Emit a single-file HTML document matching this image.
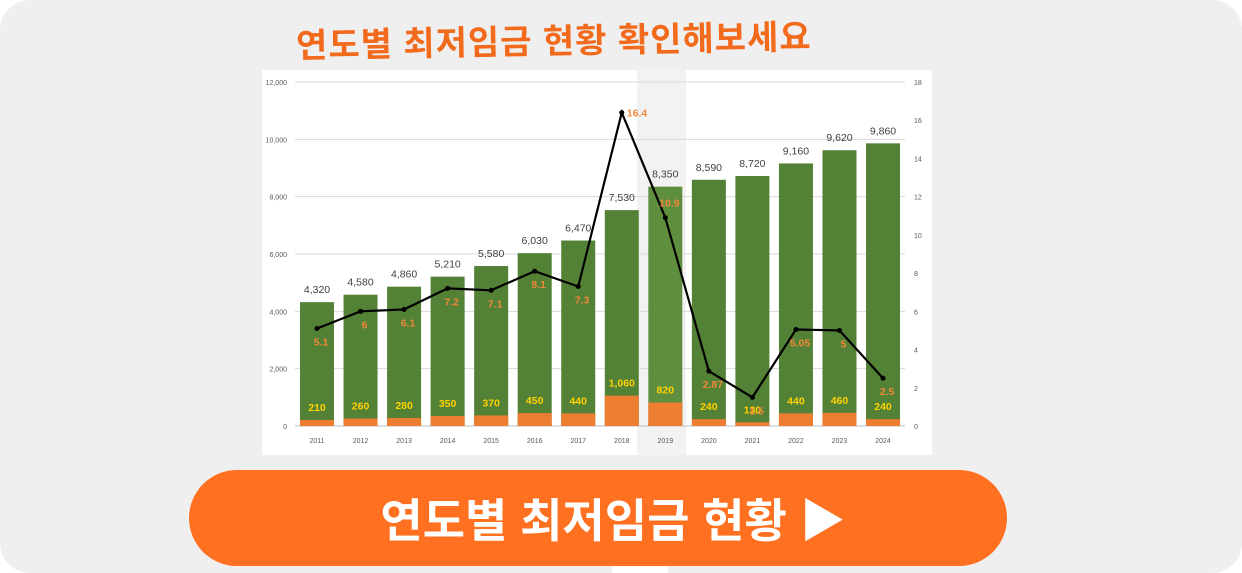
<!DOCTYPE html>
<html><head><meta charset="utf-8"><style>
html,body{margin:0;padding:0;width:1242px;height:573px;background:#fff;overflow:hidden}
.card{position:absolute;left:0;top:0;width:1242px;height:573px;background:#efefef;border-radius:30px}
.title{position:absolute;left:296px;top:14px;font:bold 34px "Liberation Sans","Noto Sans CJK KR",sans-serif;color:#f26a1b;letter-spacing:1px;transform:rotate(-1deg)}
.btn{position:absolute;left:189px;top:470px;width:818px;height:96px;border-radius:48px;background:#ff7020;color:#fff;font:bold 46px "Liberation Sans","Noto Sans CJK KR",sans-serif;display:flex;align-items:center;justify-content:center;padding-left:30px;box-sizing:border-box}
svg{position:absolute;left:0;top:0}
</style></head><body>
<div class="card"></div>
<div class="title">연도별 최저임금 현황 확인해보세요</div>
<svg width="1242" height="573">
<rect x="262" y="70" width="670" height="385" fill="#fff"/>
<rect x="637" y="70" width="49" height="385" fill="#f2f2f2"/>
<g id="g"></g>
</svg>
<div class="btn">연도별 최저임금 현황 ▶</div>
<script>
const years=["2011","2012","2013","2014","2015","2016","2017","2018","2019","2020","2021","2022","2023","2024"];
const wages=[4320,4580,4860,5210,5580,6030,6470,7530,8350,8590,8720,9160,9620,9860];
const increases=[210,260,280,350,370,450,440,1060,820,240,130,440,460,240];
const rates=[5.1,6,6.1,7.2,7.1,8.1,7.3,16.4,10.9,2.87,1.5,5.05,5,2.5];
const leftTicks=[0,2000,4000,6000,8000,10000,12000];
const rightTicks=[0,2,4,6,8,10,12,14,16,18];
const NS="http://www.w3.org/2000/svg",g=document.getElementById('g');
const y0=426,ph=344;
const yL=v=>y0-v/12000*ph, yR=v=>y0-v/18*ph, xC=i=>317+i*43.54;
function mk(t,a,txt){const e=document.createElementNS(NS,t);for(const k in a)e.setAttribute(k,a[k]);if(txt!==undefined)e.textContent=txt;g.appendChild(e);return e;}
leftTicks.forEach(v=>{
 const l=mk('line',{x1:295,x2:905,y1:yL(v),y2:yL(v),stroke:v?'#d9d9d9':'#bfbfbf','stroke-width':1});
 
 
 const t=mk('text',{x:287,y:yL(v)+3,'text-anchor':'end','font-size':7,fill:'#595959','font-family':'Liberation Sans'},v.toLocaleString('en-US'));
 
 
});
rightTicks.forEach(v=>{
 const t=mk('text',{x:914,y:yR(v)+3,'font-size':7,fill:'#595959','font-family':'Liberation Sans'},v);
 
 
});
years.forEach((y,i)=>{
 const x=xC(i),w=34;
 const b=mk('rect',{x:x-w/2,y:yL(wages[i]),width:w,height:yL(0)-yL(wages[i]),fill:i==8?'#5f8f3e':'#538135'});
 
 
 const o=mk('rect',{x:x-w/2,y:yL(increases[i]),width:w,height:yL(0)-yL(increases[i]),fill:'#ed7d31'});
 
 
 const t=mk('text',{x:x,y:yL(wages[i])-9,'text-anchor':'middle','font-size':10.5,fill:'#404040','font-family':'Liberation Sans'},wages[i].toLocaleString('en-US'));
 
 
 const t2=mk('text',{x:x,y:yL(increases[i])-9,'text-anchor':'middle','font-size':10.5,'font-weight':'bold',fill:'#ffd200','font-family':'Liberation Sans'},increases[i].toLocaleString('en-US'));
 
 
 const t3=mk('text',{x:x,y:yL(0)+17,'text-anchor':'middle','font-size':7,fill:'#595959','font-family':'Liberation Sans'},y);
 
 
});
const p=mk('polyline',{points:rates.map((r,i)=>xC(i)+','+yR(r)).join(' '),fill:'none',stroke:'#000','stroke-width':2.2});


rates.forEach((r,i)=>{
 const c=mk('circle',{cx:xC(i),cy:yR(r),r:2.5,fill:'#000'});
 
 
 const right=(i==7);
 const t=mk('text',{x:right?xC(i)+5:xC(i)+4,y:right?yR(r)+4:yR(r)+(i==8?-11:17),'text-anchor':right?'start':'middle','font-size':10.5,'font-weight':'bold',fill:'#f0883a','font-family':'Liberation Sans'},r);
 
 
});
</script>
<div style="position:absolute;left:612px;top:566px;width:56px;height:7px;background:#fff;border-radius:4px 4px 0 0"></div>
</body></html>
